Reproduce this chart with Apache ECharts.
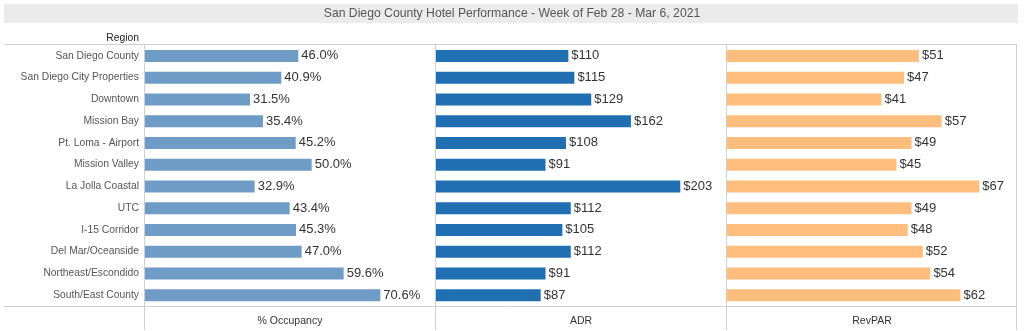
<!DOCTYPE html>
<html>
<head>
<meta charset="utf-8">
<script src="https://cdn.jsdelivr.net/npm/echarts@6/dist/echarts.min.js"></script>
<style>
  html, body { margin: 0; padding: 0; background: #fff; }
  #chart { width: 1024px; height: 331px; }
</style>
</head>
<body>
<div id="chart"></div>
<script>
// Hotel performance by region, week of Feb 28 - Mar 6, 2021
const regions = [
  'San Diego County', 'San Diego City Properties', 'Downtown', 'Mission Bay',
  'Pt. Loma - Airport', 'Mission Valley', 'La Jolla Coastal', 'UTC',
  'I-15 Corridor', 'Del Mar/Oceanside', 'Northeast/Escondido', 'South/East County'
];
const occupancy = [46.0, 40.9, 31.5, 35.4, 45.2, 50.0, 32.9, 43.4, 45.3, 47.0, 59.6, 70.6];
const adr = [110, 115, 129, 162, 108, 91, 203, 112, 105, 112, 91, 87];
const revpar = [51, 47, 41, 57, 49, 45, 67, 49, 48, 52, 54, 62];
const panelTitles = ['% Occupancy', 'ADR', 'RevPAR'];

const FONT = 'Liberation Sans, Arial, sans-serif';
const TOP = 45, BOTTOM_Y = 306, LEFT = 145, PANEL_W = 290, GAP = 1;
const lineColor = '#cfcfcf';

const panels = [
  { data: occupancy, color: '#6f9bc7', max: 87, fmt: v => v.toFixed(1) + '%' },
  { data: adr, color: '#1f6fb2', max: 241, fmt: v => '$' + v },
  { data: revpar, color: '#ffbe7e', max: 77, fmt: v => '$' + v }
];

const grids = panels.map((p, i) => ({
  left: LEFT + i * (PANEL_W + GAP),
  top: TOP,
  width: PANEL_W,
  height: BOTTOM_Y - TOP,
  containLabel: false,
  outerBoundsMode: 'none'
}));

const xAxes = panels.map((p, i) => ({
  gridIndex: i,
  type: 'value',
  min: 0,
  max: p.max,
  name: panelTitles[i],
  nameLocation: 'middle',
  nameGap: 10,
  nameTextStyle: { fontFamily: FONT, fontSize: 10.5, color: '#333' },
  axisLine: { show: false },
  axisTick: { show: false },
  axisLabel: { show: false },
  splitLine: { show: false }
}));

const yAxes = panels.map((p, i) => ({
  gridIndex: i,
  type: 'category',
  data: regions,
  inverse: true,
  axisLine: { show: false },
  axisTick: { show: false },
  axisLabel: {
    show: i === 0,
    fontFamily: FONT,
    fontSize: 10.3,
    color: '#555',
    margin: 6
  },
  splitLine: { show: false }
}));

const series = panels.map((p, i) => ({
  type: 'bar',
  xAxisIndex: i,
  yAxisIndex: i,
  data: p.data,
  barWidth: 12,
  itemStyle: { color: p.color },
  label: {
    show: true,
    position: 'right',
    distance: 3,
    fontFamily: FONT,
    fontSize: 13,
    color: '#333',
    formatter: params => p.fmt(params.value)
  },
  silent: true
}));

// Frame lines: header/footer rules and panel dividers
const seps = [144.5, 435.5, 726.5, 1016.5];
const graphics = [
  { type: 'rect', shape: { x: 4, y: 4, width: 1014, height: 19 }, style: { fill: '#ebebeb' }, z: 0 },
  { type: 'line', shape: { x1: 4, y1: 44.5, x2: 1017, y2: 44.5 }, style: { stroke: lineColor, lineWidth: 1 }, z: 0 },
  { type: 'line', shape: { x1: 4, y1: 306.5, x2: 1017, y2: 306.5 }, style: { stroke: lineColor, lineWidth: 1 }, z: 0 },
  ...seps.map(x => ({
    type: 'line', shape: { x1: x, y1: 44, x2: x, y2: 330 },
    style: { stroke: lineColor, lineWidth: 1 }, z: 0
  })),
  {
    type: 'text', right: 1024 - 139, top: 33,
    style: { text: 'Region', font: '10.3px ' + FONT, fill: '#222', textAlign: 'right' }
  }
];

const chart = echarts.init(document.getElementById('chart'), null, { renderer: 'canvas' });
chart.setOption({
  animation: false,
  title: {
    text: 'San Diego County Hotel Performance - Week of Feb 28 - Mar 6, 2021',
    left: 'center',
    top: 8,
    padding: 0,
    textStyle: { fontFamily: FONT, fontSize: 12.2, fontWeight: 'normal', color: '#555' }
  },
  grid: grids,
  xAxis: xAxes,
  yAxis: yAxes,
  series: series,
  graphic: graphics
});
</script>
</body>
</html>
